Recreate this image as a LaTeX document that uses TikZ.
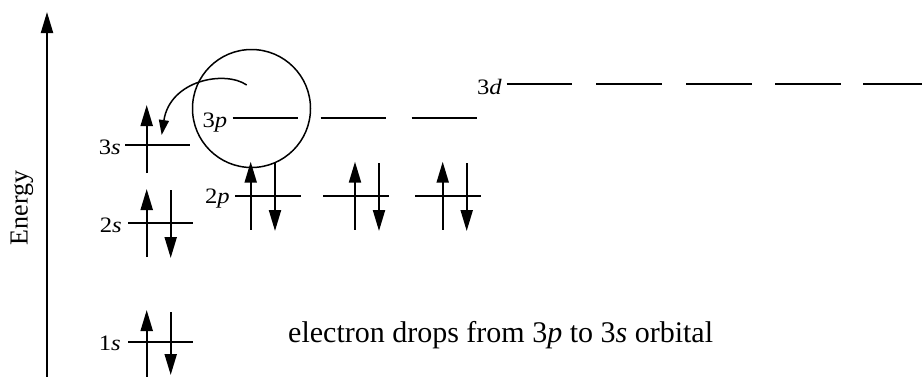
\documentclass[tikz,border=0pt]{standalone}
\usepackage{fontspec}
\setmainfont{Liberation Serif}
\usetikzlibrary{arrows.meta}
\begin{document}
\begin{tikzpicture}[x=1pt,y=-1pt,
  lvl/.style={line width=1.9pt},
  elec/.style={line width=2.1pt,-{Triangle[length=21pt,width=12pt]}},
  lab/.style={anchor=base east,inner sep=0pt,font=\fontsize{22}{26}\selectfont},
]
\useasboundingbox (0,0) rectangle (922,376);
% energy axis
\coordinate (ax0) at (47,380);
\coordinate (ax1) at (47,12);
\draw[line width=2.1pt,-{Triangle[length=21pt,width=12pt]}] (ax0) -- (ax1);
\node[rotate=90,inner sep=0pt,font=\fontsize{26}{30}\selectfont] (energy) at (22,208) {Energy};
% 3s
\draw[lvl] (125,145) coordinate (s3a) -- (190,145) coordinate (s3b);
\node[lab] (l3s) at (121,154) {\scalebox{1.12}[1]{3\textit{s}}};
\coordinate (s3u0) at (146.7,173); \coordinate (s3u1) at (146.7,105);
\draw[elec] (s3u0) -- (s3u1);
% 2s
\draw[lvl] (128,223.3) coordinate (s2a) -- (193,223.3) coordinate (s2b);
\node[lab] (l2s) at (122,232) {\scalebox{1.12}[1]{2\textit{s}}};
\coordinate (s2u0) at (146.7,257); \coordinate (s2u1) at (146.7,189);
\coordinate (s2d0) at (170.7,190); \coordinate (s2d1) at (170.7,258);
\draw[elec] (s2u0) -- (s2u1);
\draw[elec] (s2d0) -- (s2d1);
% 1s
\draw[lvl] (128,341.7) coordinate (s1a) -- (193,341.7) coordinate (s1b);
\node[lab] (l1s) at (121,350) {\scalebox{1.12}[1]{1\textit{s}}};
\coordinate (s1u0) at (146.7,380); \coordinate (s1u1) at (146.7,310);
\coordinate (s1d0) at (170.7,312); \coordinate (s1d1) at (170.7,375);
\draw[elec] (s1u0) -- (s1u1);
\draw[elec] (s1d0) -- (s1d1);
% 2p
\node[lab] (l2p) at (230,203) {\scalebox{1.12}[1]{2\textit{p}}};
\draw[lvl] (235,196) coordinate (p2a) -- (300.7,196) coordinate (p2b);
\draw[lvl] (323,196) coordinate (p2c) -- (389,196) coordinate (p2d);
\draw[lvl] (415,196) coordinate (p2e) -- (480.7,196) coordinate (p2f);
\foreach \u/\d [count=\i] in {250.7/275, 355/379, 442.7/466.7}{
  \coordinate (pu\i a) at (\u,229.5); \coordinate (pu\i b) at (\u,161.7);
  \coordinate (pd\i a) at (\d,163); \coordinate (pd\i b) at (\d,231);
  \draw[elec] (pu\i a) -- (pu\i b);
  \draw[elec] (pd\i a) -- (pd\i b);
}
% 3p
\node[lab] (l3p) at (227.5,127) {\scalebox{1.12}[1]{3\textit{p}}};
\draw[lvl] (232.7,118) coordinate (p3a) -- (297.7,118) coordinate (p3b);
\draw[lvl] (320.7,118) coordinate (p3c) -- (386,118) coordinate (p3d);
\draw[lvl] (411.7,118) coordinate (p3e) -- (477.3,118) coordinate (p3f);
% 3d
\node[lab] (l3d) at (502,94) {\scalebox{1.12}[1]{3\textit{d}}};
\foreach \a/\b [count=\i] in {506.7/571.7, 596/661.7, 686/751.7, 775/840.7, 863.3/925}{
  \draw[lvl] (\a,84) coordinate (d\i a) -- (\b,84) coordinate (d\i b);
}
% circle and transition arrow
\node[circle,draw,line width=1.5pt,minimum size=118pt,inner sep=0pt] (ring) at (251.5,108.5) {};
\coordinate (tr0) at (246.7,85);
\coordinate (tr1) at (161.7,135);
\draw[line width=1.5pt,-{Triangle[length=15pt,width=10pt]}] (tr0) .. controls (225,70) and (170,80) .. (tr1);
% caption
\node[anchor=base west,inner sep=0pt,font=\fontsize{30}{36}\selectfont] (cap) at (288,342)
  {electron drops from 3\textit{p} to 3\textit{s} orbital};
\end{tikzpicture}
\end{document}
